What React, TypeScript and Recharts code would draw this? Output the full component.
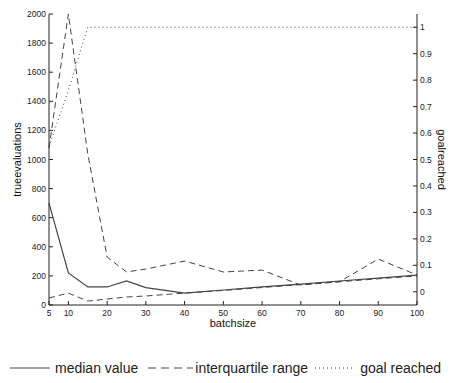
import { CartesianGrid, ComposedChart, Line, XAxis, YAxis } from "recharts";

// batch sizes along the x axis
const batchSizes = [5, 10, 15, 20, 25, 30, 40, 50, 60, 70, 80, 90, 100];
// median of true evaluations
const medianValue = [700, 220, 124, 124, 165, 120, 82, 103, 124, 144, 165, 185, 205];
// upper and lower quartile
const upperQuartile = [1080, 2000, 1040, 330, 227, 247, 302, 227, 240, 137, 160, 316, 206];
const lowerQuartile = [48, 82, 27, 41, 55, 62, 82, 100, 120, 140, 160, 180, 200];
// share of runs that reached the goal
const goalReached = [0.55, 0.76, 1, 1, 1, 1, 1, 1, 1, 1, 1, 1, 1];

const leftTicks = [0, 200, 400, 600, 800, 1000, 1200, 1400, 1600, 1800, 2000];
const rightTicks = [0, 0.1, 0.2, 0.3, 0.4, 0.5, 0.6, 0.7, 0.8, 0.9, 1];

const data = batchSizes.map((b, i) => ({
  batch: b,
  median: medianValue[i],
  q3: upperQuartile[i],
  q1: lowerQuartile[i],
  goal: goalReached[i],
}));

const FONT = "'Liberation Sans', Arial, sans-serif";
const LINE = "#444";

// matlab style ticks: short marks pointing into the plot
function LeftTick({ x, y, payload }: any) {
  return (
    <g>
      <line x1={x} x2={x + 4} y1={y} y2={y} stroke="#222" />
      <text x={x - 3} y={y + 3} textAnchor="end" fontSize={8.5} fill="#222" fontFamily={FONT}>
        {payload.value}
      </text>
    </g>
  );
}

function RightTick({ x, y, payload }: any) {
  return (
    <g>
      <line x1={x - 4} x2={x} y1={y} y2={y} stroke="#222" />
      <text x={x + 3} y={y + 3} textAnchor="start" fontSize={8.5} fill="#222" fontFamily={FONT}>
        {payload.value}
      </text>
    </g>
  );
}

function BottomTick({ x, y, payload }: any) {
  return (
    <g>
      <line x1={x} x2={x} y1={y - 4} y2={y} stroke="#222" />
      <text x={x} y={y + 11} textAnchor="middle" fontSize={8.5} fill="#222" fontFamily={FONT}>
        {payload.value}
      </text>
    </g>
  );
}

function LegendItem({ dash, label, line, gap, after }: { dash?: string; label: string; line: number; gap: number; after: number }) {
  return (
    <span style={{ display: "inline-flex", alignItems: "center", marginRight: after }}>
      <svg width={line} height={6}>
        <line x1={0} x2={line} y1={3} y2={3} stroke={LINE} strokeWidth={1} strokeDasharray={dash} />
      </svg>
      <span style={{ marginLeft: gap }}>{label}</span>
    </span>
  );
}

export default function App() {
  return (
    <div style={{ position: "absolute", left: 0, top: 0, width: 451, height: 383, background: "#fff" }}>
      <ComposedChart
        width={451}
        height={383}
        data={data}
        margin={{ top: 14, right: 0, left: 0, bottom: 48 }}
      >
        <CartesianGrid stroke="none" fill="none" />
        <XAxis
          dataKey="batch"
          type="number"
          domain={[5, 100]}
          ticks={batchSizes}
          height={30}
          stroke="#222"
          tickLine={false}
          tickSize={0}
          tickMargin={0}
          tick={<BottomTick />}
          label={{
            value: "batchsize",
            position: "insideBottom",
            offset: 8,
            fontSize: 11,
            fill: "#111",
            fontFamily: FONT,
          }}
        />
        <YAxis
          yAxisId="left"
          domain={[0, 2000]}
          ticks={leftTicks}
          width={49}
          stroke="#222"
          tickLine={false}
          tickSize={0}
          tickMargin={0}
          tick={<LeftTick />}
          label={{
            value: "trueevaluations",
            angle: -90,
            position: "insideLeft",
            offset: 17,
            fontSize: 11,
            fill: "#111",
            fontFamily: FONT,
            style: { textAnchor: "middle" },
          }}
        />
        <YAxis
          yAxisId="right"
          orientation="right"
          domain={[-0.05, 1.05]}
          ticks={rightTicks}
          width={34}
          stroke="#222"
          tickLine={false}
          tickSize={0}
          tickMargin={0}
          tick={<RightTick />}
          label={{
            value: "goalreached",
            angle: 90,
            position: "insideRight",
            offset: 9,
            fontSize: 11,
            fill: "#111",
            fontFamily: FONT,
            style: { textAnchor: "middle" },
          }}
        />
        <Line
          yAxisId="left"
          dataKey="median"
          stroke={LINE}
          strokeWidth={1.2}
          dot={false}
          isAnimationActive={false}
        />
        <Line
          yAxisId="left"
          dataKey="q3"
          stroke={LINE}
          strokeWidth={1}
          strokeDasharray="6 4"
          dot={false}
          isAnimationActive={false}
        />
        <Line
          yAxisId="left"
          dataKey="q1"
          stroke={LINE}
          strokeWidth={1}
          strokeDasharray="6 4"
          dot={false}
          isAnimationActive={false}
        />
        <Line
          yAxisId="right"
          dataKey="goal"
          stroke={LINE}
          strokeWidth={1}
          strokeDasharray="1 3"
          dot={false}
          isAnimationActive={false}
        />
      </ComposedChart>
      <div
        style={{
          position: "absolute",
          left: 10,
          top: 360,
          width: 441,
          fontFamily: FONT,
          fontSize: 14,
          color: "#222",
          whiteSpace: "nowrap",
          display: "flex",
          alignItems: "center",
        }}
      >
        <LegendItem label="median value" line={40} gap={5} after={10} />
        <LegendItem dash="8 5" label="interquartile range" line={45} gap={2} after={7} />
        <LegendItem dash="1 3" label="goal reached" line={40} gap={5} after={0} />
      </div>
    </div>
  );
}
